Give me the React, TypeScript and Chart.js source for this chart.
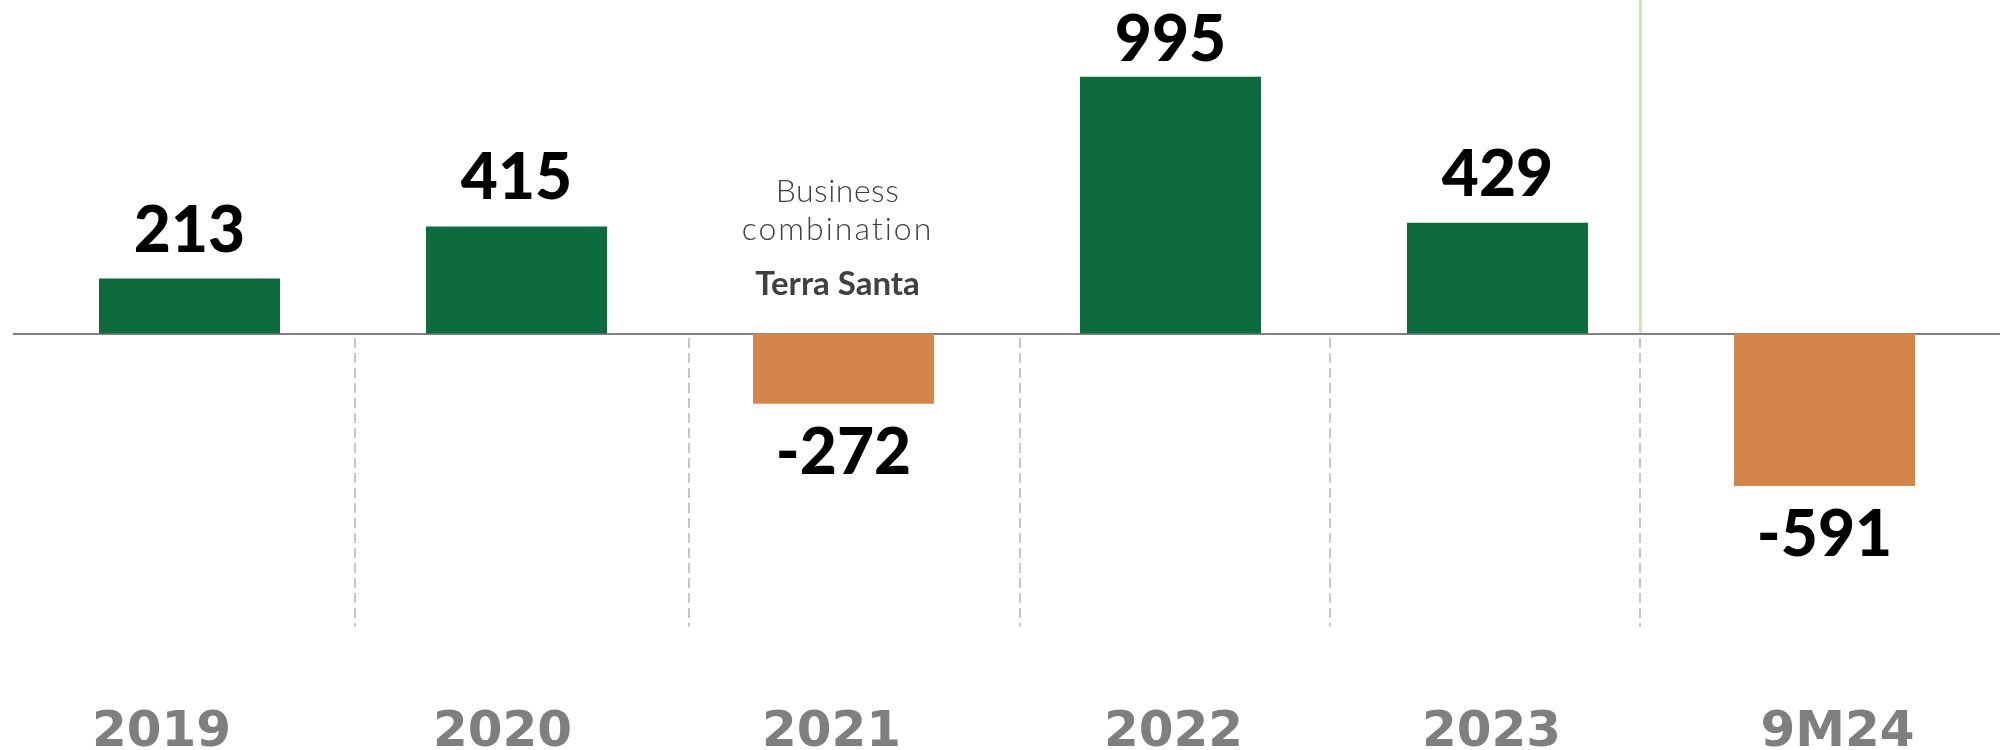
import React, { useEffect, useRef } from "react";
import { Chart, registerables } from "chart.js";

Chart.register(...registerables);

const categories = ["2019", "2020", "2021", "2022", "2023", "9M24"];
const values = [213, 415, -272, 995, 429, -591];
const valueLabels = ["213", "415", "-272", "995", "429", "-591"];
const positiveColor = "#0d6b3e";
const negativeColor = "#d4854b";
const annotationCategory = 2;
const annotationLines = ["Business", "combination", "Terra Santa"];
const annotationValues = [510, 362, 149];
const dividerOffsets = [0.506, 1.528, 2.54, 3.488, 4.436];
const dividerBottomValue = -1137;
const highlightDivider = 4;
const categoryLabelShift = [-28, -14, -12, 3, -6, 13];
const yMin = -1420.5;
const yMax = 1292.6;

const overlayPlugin = {
  id: "overlay",
  beforeDatasetsDraw(chart: any) {
    const { ctx, chartArea, scales } = chart;
    const x = scales.x;
    const y = scales.y;
    const zeroY = Math.round(y.getPixelForValue(0));
    const divBottom = y.getPixelForValue(dividerBottomValue);
    const x0 = x.getPixelForValue(0);
    const step = x.getPixelForValue(1) - x0;
    ctx.save();
    ctx.strokeStyle = "#c6c6c6";
    ctx.lineWidth = 2;
    ctx.setLineDash([10, 5]);
    dividerOffsets.forEach((d) => {
      const px = Math.round(x0 + d * step);
      ctx.beginPath();
      ctx.moveTo(px, zeroY + 4);
      ctx.lineTo(px, divBottom);
      ctx.stroke();
    });
    ctx.setLineDash([]);
    const hx = Math.round(x0 + dividerOffsets[highlightDivider] * step);
    ctx.strokeStyle = "#c8e8b9";
    ctx.lineWidth = 3;
    ctx.beginPath();
    ctx.moveTo(hx + 0.5, 0);
    ctx.lineTo(hx + 0.5, zeroY);
    ctx.stroke();
    ctx.strokeStyle = "#808080";
    ctx.lineWidth = 2;
    ctx.beginPath();
    ctx.moveTo(chartArea.left - 13, zeroY);
    ctx.lineTo(chart.width, zeroY);
    ctx.stroke();
    ctx.restore();
  },
  afterDatasetsDraw(chart: any) {
    const { ctx, scales, chartArea } = chart;
    const x = scales.x;
    const y = scales.y;
    const meta = chart.getDatasetMeta(0);
    ctx.save();
    ctx.fillStyle = "#000000";
    ctx.textAlign = "center";
    ctx.textBaseline = "alphabetic";
    ctx.font = "900 64px Lato, 'Open Sans', sans-serif";
    const cap = 46;
    meta.data.forEach((bar: any, i: number) => {
      const v = values[i];
      let base: number;
      if (v >= 0) {
        base = Math.max(bar.y - 27, 15 + cap);
      } else {
        base = bar.y + 24 + cap;
      }
      ctx.fillText(valueLabels[i], bar.x, base);
    });
    // category labels
    ctx.fillStyle = "#7f7f7f";
    ctx.font = "bold 50px 'DejaVu Sans', sans-serif";
    categories.forEach((c, i) => {
      ctx.fillText(c, x.getPixelForValue(i) + categoryLabelShift[i], chartArea.bottom + 46);
    });
    // annotation
    const ax = x.getPixelForValue(annotationCategory) - 6;
    ctx.fillStyle = "#404040";
    annotationLines.forEach((line, i) => {
      const bold = i === annotationLines.length - 1;
      if (bold) {
        ctx.font = "bold 33px Lato, 'Open Sans', sans-serif";
        (ctx as any).letterSpacing = "0px";
      } else {
        ctx.font = "300 32px Lato, 'Open Sans', sans-serif";
        (ctx as any).letterSpacing = i === 1 ? "2px" : "0.5px";
      }
      ctx.fillText(line, ax, y.getPixelForValue(annotationValues[i]));
    });
    ctx.restore();
  },
};

function BarChart() {
  const canvasRef = useRef<HTMLCanvasElement | null>(null);
  useEffect(() => {
    if (!canvasRef.current) return;
    const chart = new Chart(canvasRef.current, {
      type: "bar",
      data: {
        labels: categories,
        datasets: [
          {
            data: values,
            backgroundColor: values.map((v) => (v >= 0 ? positiveColor : negativeColor)),
            borderWidth: 0,
            categoryPercentage: 1,
            barPercentage: 0.5535,
          },
        ],
      },
      options: {
        responsive: true,
        maintainAspectRatio: false,
        animation: false,
        layout: { padding: { left: 26, right: 12, top: 0, bottom: 50 } },
        plugins: {
          legend: { display: false },
          tooltip: { enabled: false },
        },
        scales: {
          x: {
            display: false,
          },
          y: {
            display: false,
            min: yMin,
            max: yMax,
          },
        },
      },
      plugins: [overlayPlugin],
    });
    return () => chart.destroy();
  }, []);
  return (
    <div style={{ position: "absolute", left: 0, top: 0, width: 2000, height: 750, background: "#ffffff" }}>
      <canvas ref={canvasRef} />
    </div>
  );
}

export default function App() {
  return <BarChart />;
}
